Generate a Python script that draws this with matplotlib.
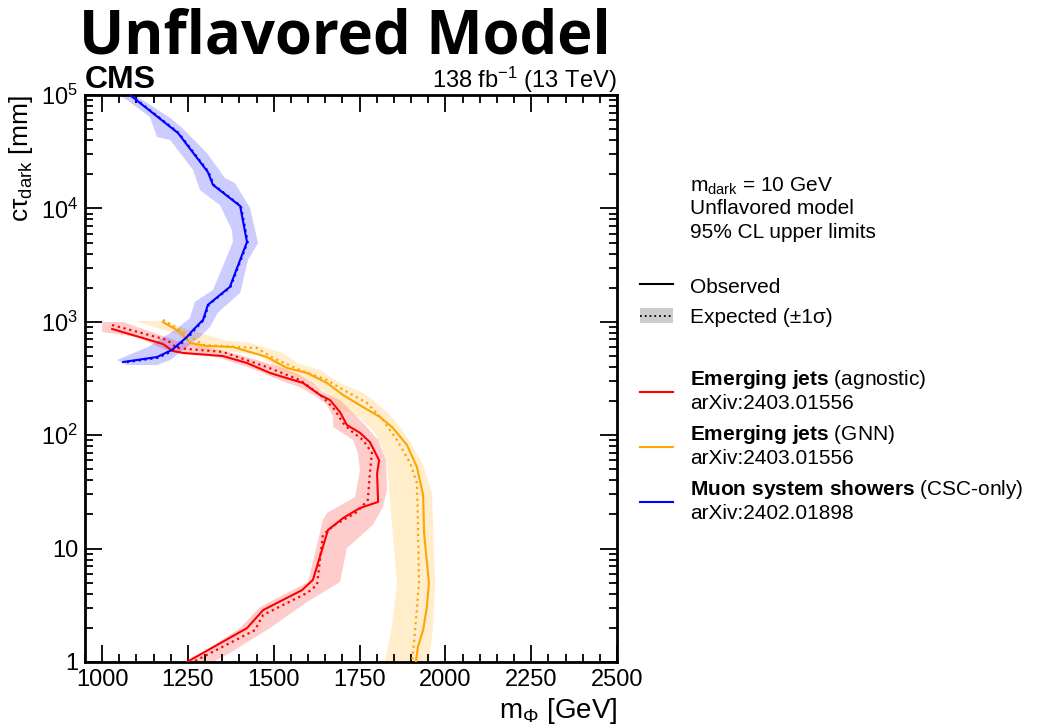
import numpy as np
import matplotlib
matplotlib.use('Agg')
import matplotlib.pyplot as plt
import matplotlib.ticker as mticker
from matplotlib.lines import Line2D
from matplotlib.patches import Rectangle

plt.rcParams['font.family'] = ['Liberation Sans', 'DejaVu Sans']
plt.rcParams['mathtext.fontset'] = 'custom'
plt.rcParams['mathtext.rm'] = 'Liberation Sans'
plt.rcParams['mathtext.bf'] = 'Liberation Sans:bold'
plt.rcParams['mathtext.it'] = 'Liberation Sans:italic'
plt.rcParams['mathtext.default'] = 'regular'

# ---------------------------------------------------------------------------
# Muon system showers (CSC-only), arXiv:2402.01898
csc_obs_m  = [1081, 1221, 1308, 1323, 1402, 1422, 1402, 1372, 1308, 1294, 1265, 1247, 1203, 1160, 1061]
csc_obs_ct = [1e5, 46200, 20900, 16100, 10500, 5060, 3510, 2030, 1410, 1040, 847, 735, 564, 489, 442]
csc_exp_m  = [1083, 1223, 1310, 1325, 1404, 1424, 1404, 1374, 1310, 1296, 1268, 1250, 1206, 1163, 1064]
csc_exp_ct = [1e5, 46200, 20900, 16100, 10500, 5060, 3510, 2030, 1410, 1040, 840, 725, 555, 482, 438]
csc_lo_m   = [1052, 1139, 1160, 1198, 1265, 1285, 1343, 1378, 1381, 1323, 1270, 1256, 1221, 1134, 1043]
csc_lo_ct  = [1e5, 64000, 42600, 40100, 21800, 14500, 10700, 6450, 5060, 1910, 1500, 1080, 881, 600, 460]
csc_hi_m   = [1096, 1198, 1233, 1305, 1358, 1387, 1431, 1454, 1425, 1402, 1337, 1314, 1285, 1198, 1160, 1072]
csc_hi_ct  = [1e5, 62700, 51200, 30800, 18500, 16700, 10100, 4950, 3510, 1800, 1200, 900, 735, 460, 416, 416]

# Emerging jets (agnostic), arXiv:2403.01556
ej_obs_m  = [1029, 1177, 1206, 1236, 1352, 1422, 1489, 1527, 1585, 1635, 1664, 1693, 1713, 1751,
             1780, 1807, 1801, 1804, 1751, 1702, 1658, 1614, 1582, 1469, 1422, 1247]
ej_obs_ct = [865, 637, 553, 531, 499, 433, 354, 326, 289, 226, 204, 160, 123, 105,
             87, 60, 46, 25.8, 22.8, 18.6, 14.6, 5.3, 4.3, 2.87, 1.99, 1.0]
ej_exp_m  = [1029, 1189, 1218, 1352, 1480, 1576, 1643, 1678, 1702, 1722, 1760, 1786, 1780,
             1774, 1742, 1678, 1643, 1626, 1597, 1469, 1445, 1265]
ej_exp_ct = [937, 692, 587, 542, 399, 307, 217, 167, 128, 111, 90.7, 69.7, 46.4,
             26.8, 21.0, 16.2, 13.2, 4.77, 4.06, 2.60, 1.91, 1.0]
ej_hi_m   = [1000, 1061, 1169, 1218, 1343, 1431, 1527, 1576, 1614, 1643, 1693, 1728, 1766, 1804,
             1827, 1830, 1818, 1789, 1713, 1693, 1597, 1489, 1372, 1323]
ej_hi_ct  = [996, 996, 765, 678, 564, 480, 391, 340, 289, 240, 204, 160, 123, 90.7,
             60.4, 32.9, 23.3, 16.2, 10.1, 5.07, 3.38, 1.99, 1.20, 1.0]
ej_lo_m   = [1000, 1102, 1198, 1335, 1431, 1539, 1576, 1626, 1655, 1673, 1673, 1731, 1745, 1751,
             1737, 1655, 1643, 1600, 1460, 1402, 1305, 1241]
ej_lo_ct  = [813, 735, 542, 489, 391, 289, 266, 217, 185, 145, 118, 90.7, 69.7, 49.3,
             28.5, 20.6, 17.9, 5.07, 3.05, 1.99, 1.28, 1.0]

# Emerging jets (GNN), arXiv:2403.01556
gnn_obs_m  = [1177, 1227, 1256, 1305, 1381, 1480, 1539, 1597, 1655, 1702, 1760, 1809, 1847, 1888,
              1917, 1935, 1938, 1952, 1946, 1935, 1920, 1914]
gnn_obs_ct = [996, 813, 650, 612, 600, 489, 391, 354, 289, 226, 177, 145, 116, 82,
              52.5, 29.7, 13.7, 4.97, 3.05, 1.91, 1.36, 1.0]
gnn_exp_m  = [1177, 1218, 1265, 1294, 1451, 1498, 1576, 1655, 1693, 1772, 1818, 1859, 1897,
              1917, 1920, 1923, 1911, 1903]
gnn_exp_ct = [1040, 881, 720, 624, 587, 480, 376, 307, 261, 192, 136, 90.7, 56.9,
              37.9, 17.9, 4.97, 1.80, 1.0]
gnn_hi_m   = [1102, 1177, 1256, 1352, 1431, 1527, 1568, 1635, 1693, 1760, 1789, 1833, 1868, 1906,
              1935, 1961, 1964, 1970, 1964, 1952]
gnn_hi_ct  = [1016, 1016, 847, 692, 650, 531, 433, 376, 289, 236, 204, 157, 118, 78.7,
              54.6, 30.9, 17.9, 4.97, 1.99, 1.0]
gnn_lo_m   = [1102, 1218, 1256, 1294, 1451, 1518, 1597, 1655, 1693, 1751, 1789, 1815, 1830,
              1836, 1859, 1844, 1824]
gnn_lo_ct  = [996, 780, 650, 564, 520, 376, 307, 236, 174, 142, 111, 78.7, 56.9,
              32.9, 4.97, 2.04, 1.0]

ANALYSES = [
    # (colour, obs, exp, band hi, band lo, title, detail, ref)
    ('#ff0000', (ej_obs_m, ej_obs_ct), (ej_exp_m, ej_exp_ct), (ej_hi_m, ej_hi_ct), (ej_lo_m, ej_lo_ct),
     'Emerging\\ jets', ' (agnostic)', 'arXiv:2403.01556'),
    ('#ffa500', (gnn_obs_m, gnn_obs_ct), (gnn_exp_m, gnn_exp_ct), (gnn_hi_m, gnn_hi_ct), (gnn_lo_m, gnn_lo_ct),
     'Emerging\\ jets', ' (GNN)', 'arXiv:2403.01556'),
    ('#0000ff', (csc_obs_m, csc_obs_ct), (csc_exp_m, csc_exp_ct), (csc_hi_m, csc_hi_ct), (csc_lo_m, csc_lo_ct),
     'Muon\\ system\\ showers', ' (CSC-only)', 'arXiv:2402.01898'),
]

W, H = 1051, 728
fig = plt.figure(figsize=(W / 100, H / 100), dpi=100)
ax = fig.add_axes([85 / W, 66 / H, 532 / W, 567 / H])

for col, obs, exp, hi, lo, *_ in ANALYSES:
    bx = np.concatenate([hi[0], lo[0][::-1]])
    by = np.concatenate([hi[1], lo[1][::-1]])
    ax.fill(bx, by, color=col, alpha=0.2, lw=0, zorder=1)
for col, obs, exp, hi, lo, *_ in ANALYSES:
    ax.plot(exp[0], exp[1], color=col, lw=1.6, ls=':', zorder=2)
    ax.plot(obs[0], obs[1], color=col, lw=1.5, zorder=3)

ax.set_yscale('log')
ax.set_xlim(950, 2500)
ax.set_ylim(1, 1e5)
ax.xaxis.set_major_locator(mticker.MultipleLocator(250))
ax.xaxis.set_minor_locator(mticker.MultipleLocator(50))
ax.yaxis.set_major_locator(mticker.LogLocator(base=10, numticks=10))
ax.yaxis.set_minor_locator(mticker.LogLocator(base=10, subs=np.arange(2, 10), numticks=10))
ax.yaxis.set_minor_formatter(mticker.NullFormatter())


def _yfmt(v, _):
    e = int(round(np.log10(v)))
    if e == 0:
        return '1'
    if e == 1:
        return '10'
    return r'$10^{%d}$' % e


ax.yaxis.set_major_formatter(mticker.FuncFormatter(_yfmt))
ax.tick_params(which='both', direction='in', top=True, right=True, width=1.3)
ax.tick_params(which='major', length=12, labelsize=17, pad=5)
ax.tick_params(which='minor', length=6)
for sp in ax.spines.values():
    sp.set_linewidth(2)

ax.set_xlabel(r'm$_{\Phi}$ [GeV]', fontsize=20, loc='right')
ax.set_ylabel(r'cτ$_{\mathrm{dark}}$ [mm]', fontsize=19, loc='top')

# header texts
fig.text(345 / W, 1 - 54 / H, 'Unflavored Model', fontsize=43, fontweight='bold',
         family=['Open Sans', 'DejaVu Sans'], ha='center', va='baseline')
fig.text(85 / W, 1 - 88 / H, 'CMS', fontsize=23, fontweight='bold', ha='left', va='baseline')
fig.text(617 / W, 1 - 88 / H, r'138 fb$^{-1}$ (13 TeV)', fontsize=17, ha='right', va='baseline')

# info block
TX = 690 / W
fig.text(TX, 1 - 192 / H, r'm$_{\mathrm{dark}}$ = 10 GeV', fontsize=15, va='baseline')
fig.text(TX, 1 - 214 / H, 'Unflavored model', fontsize=15, va='baseline')
fig.text(TX, 1 - 238 / H, '95% CL upper limits', fontsize=15, va='baseline')

# legend
HX = [640 / W, 673 / W]
fig.add_artist(Line2D(HX, [1 - 284 / H] * 2, color='black', lw=1.5))
fig.text(TX, 1 - 293 / H, 'Observed', fontsize=15, va='baseline')
fig.add_artist(Rectangle((HX[0], 1 - 323 / H), HX[1] - HX[0], 15 / H,
                         facecolor='#cccccc', edgecolor='none'))
fig.add_artist(Line2D(HX, [1 - 316 / H] * 2, color='black', lw=1.3, ls=':'))
fig.text(TX, 1 - 323 / H, 'Expected (±1σ)', fontsize=15, va='baseline')

LEG_Y = [(392, 385, 409), (447, 440, 464), (502, 495, 519)]
for (col, *_rest), (hy, t1, t2) in zip(ANALYSES, LEG_Y):
    bold, detail, ref = _rest[-3:]
    fig.add_artist(Line2D(HX, [1 - hy / H] * 2, color=col, lw=1.5))
    fig.text(TX, 1 - t1 / H, r'$\mathbf{%s}$%s' % (bold, detail), fontsize=15, va='baseline')
    fig.text(TX, 1 - t2 / H, ref, fontsize=15, va='baseline')

fig.savefig('out.png', dpi=100)
